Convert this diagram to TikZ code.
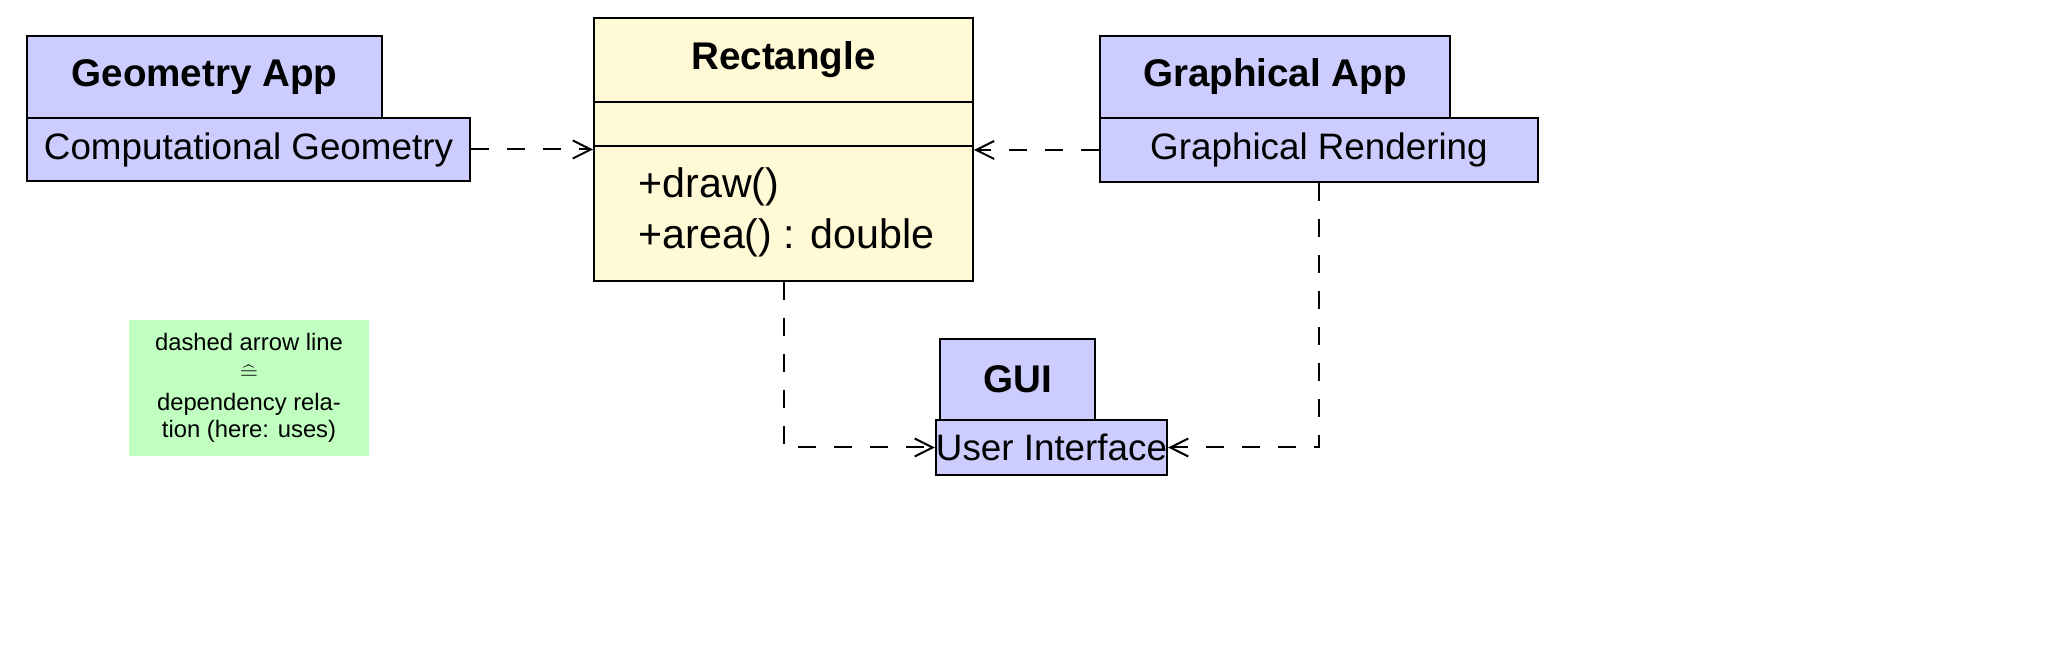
\documentclass[tikz,border=0pt]{standalone}
\usepackage{fontspec}
\setmainfont{Liberation Sans}
\usetikzlibrary{arrows.meta}
\definecolor{pkgblue}{RGB}{204,204,255}
\definecolor{clsyellow}{RGB}{255,250,213}
\definecolor{notegreen}{RGB}{192,255,192}
\tikzset{
  box/.style={draw=black, line width=1pt, inner sep=0pt, anchor=center},
  pkg/.style={box, fill=pkgblue},
  cls/.style={box, fill=clsyellow},
  titlefont/.style={font=\fontsize{19.3pt}{23pt}\selectfont\bfseries},
  labelfont/.style={font=\fontsize{18.4pt}{22pt}\selectfont},
  dep/.style={line width=1pt, dash pattern=on 9pt off 9pt, -{Straight Barb[length=9pt,width=9pt,line width=1pt]}}
}
\begin{document}
\begin{tikzpicture}[x=0.5pt,y=-0.5pt]
\useasboundingbox (0,0) rectangle (2069,657);
% Geometry App
\node[pkg, titlefont, minimum width=177.5pt, minimum height=41pt] (geoT) at (204.5,77) {Geometry App};
\node[pkg, labelfont, minimum width=221.5pt, minimum height=31.5pt] (geoB) at (248.5,149.5) {Computational Geometry};
% Rectangle class
\node[cls, titlefont, minimum width=189.5pt, minimum height=42pt] (recT) at (783.5,60) {Rectangle};
\node[cls, minimum width=189.5pt, minimum height=22pt] (recM) at (783.5,124) {};
\node[cls, minimum width=189.5pt, minimum height=67.5pt] (recB) at (783.5,213.5) {};
\node[anchor=west, align=left, inner sep=0pt, font=\fontsize{20.6pt}{25.5pt}\selectfont] (meth) at (638,212) {+draw()\\+area() : double};
% Graphical App
\node[pkg, titlefont, minimum width=175pt, minimum height=41pt] (grT) at (1275,77) {Graphical App};
\node[pkg, labelfont, minimum width=219pt, minimum height=32pt] (grB) at (1319,150) {Graphical Rendering};
% GUI
\node[pkg, titlefont, minimum width=77.5pt, minimum height=40.5pt] (guiT) at (1017.5,379.5) {GUI};
\node[pkg, labelfont, minimum width=111.5pt, minimum height=27.5pt] (guiB) at (1051.5,447.5) {User Interface};
% note
\node[fill=notegreen, inner sep=0pt, minimum width=120pt, minimum height=68pt, align=center, font=\fontsize{11.9pt}{13.5pt}\selectfont] (note) at (249,388) {dashed arrow line\\[1pt]$\widehat{=}$\\[2pt]dependency rela-\\tion (here: uses)};
% dependencies
\draw[dep] (geoB.east) -- (geoB.east -| recB.west);
\draw[dep] (grB.west) -- (grB.west -| recB.east);
\draw[dep] (recB.south) |- (guiB.west);
\draw[dep] (grB.south) |- (guiB.east);
\end{tikzpicture}
\end{document}
